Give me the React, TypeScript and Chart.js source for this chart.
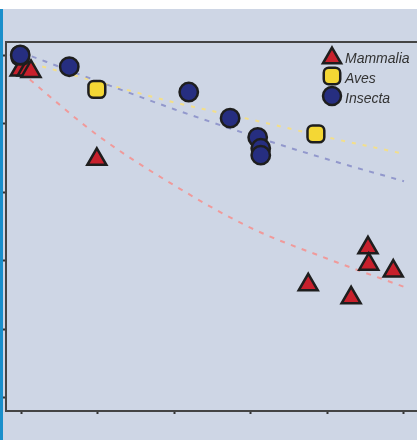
import React, { useEffect, useRef } from "react";
import { Chart, registerables } from "chart.js";
import { drawPoint } from "chart.js/helpers";

Chart.register(...registerables);

const seriesNames = ["Mammalia", "Aves", "Insecta"];

const mammaliaX = [-0.01, 0.08, 0.13, 0.99, 3.75, 4.31, 4.53, 4.54, 4.86];
const mammaliaY = [4.78, 4.78, 4.76, 3.48, 1.65, 1.46, 2.19, 1.95, 1.85];

const avesX = [-0.01, 0.99, 3.85];
const avesY = [4.99, 4.5, 3.85];

const insectaX = [-0.01, 0.63, 2.19, 2.73, 3.09, 3.13, 3.13];
const insectaY = [5.0, 4.83, 4.46, 4.08, 3.8, 3.64, 3.54];

const trendX = [0, 1, 2, 3, 4, 5];
const mammaliaTrend = [4.75, 3.83, 3.1, 2.48, 2.03, 1.62];
const insectaTrend = [5.04, 4.62, 4.21, 3.83, 3.48, 3.16];
const avesTrend = [4.92, 4.61, 4.31, 4.06, 3.8, 3.56];

const RED = "#c8202c";
const YELLOW = "#f4d734";
const NAVY = "#262e80";
const EDGE = "#1e1e1e";

const pts = (xs: number[], ys: number[]) => xs.map((x, i) => ({ x, y: ys[i] }));

const legendPlugin = {
  id: "insideLegend",
  afterDraw(chart: any) {
    const ctx = chart.ctx;
    const styles = [
      { pointStyle: "triangle", radius: 10.5, fill: RED, my: 49 },
      { pointStyle: "rectRounded", radius: 9.6, fill: YELLOW, my: 67 },
      { pointStyle: "circle", radius: 9, fill: NAVY, my: 87 },
    ];
    ctx.save();
    styles.forEach((s, i) => {
      ctx.fillStyle = s.fill;
      ctx.strokeStyle = EDGE;
      ctx.lineWidth = 2.5;
      drawPoint(ctx, { pointStyle: s.pointStyle, radius: s.radius, rotation: 0, borderWidth: 2.5 } as any, 329, s.my);
      ctx.fillStyle = "#333";
      ctx.font = "italic 14px 'Liberation Sans', Arial, sans-serif";
      ctx.textBaseline = "alphabetic";
      ctx.textAlign = "left";
      ctx.fillText(seriesNames[i], 342, 54 + i * 20);
    });
    ctx.restore();
  },
};

export default function App() {
  const ref = useRef<HTMLCanvasElement>(null);

  useEffect(() => {
    document.body.style.margin = "0";
    const canvas = ref.current!;
    const chart = new Chart(canvas, {
      type: "scatter",
      data: {
        datasets: [
          {
            label: "Insecta",
            data: pts(insectaX, insectaY),
            pointStyle: "circle",
            pointRadius: 9.2,
            pointBackgroundColor: NAVY,
            pointBorderColor: EDGE,
            pointBorderWidth: 2.5,
            order: 0,
          },
          {
            label: "Aves",
            data: pts(avesX, avesY),
            pointStyle: "rectRounded",
            pointRadius: 9.8,
            pointBackgroundColor: YELLOW,
            pointBorderColor: EDGE,
            pointBorderWidth: 2.5,
            order: 1,
          },
          {
            label: "Mammalia",
            data: pts(mammaliaX, mammaliaY),
            pointStyle: "triangle",
            pointRadius: 11,
            pointBackgroundColor: RED,
            pointBorderColor: EDGE,
            pointBorderWidth: 2.5,
            order: 2,
          },
          {
            label: "Mammalia fit",
            data: pts(trendX, mammaliaTrend),
            showLine: true,
            pointRadius: 0,
            borderColor: "#f09a9a",
            borderWidth: 2,
            borderDash: [5, 6.5],
            cubicInterpolationMode: "monotone",
            order: 3,
          },
          {
            label: "Insecta fit",
            data: pts(trendX, insectaTrend),
            showLine: true,
            pointRadius: 0,
            borderColor: "#9298cc",
            borderWidth: 2,
            borderDash: [5, 6.5],
            cubicInterpolationMode: "monotone",
            order: 4,
          },
          {
            label: "Aves fit",
            data: pts(trendX, avesTrend),
            showLine: true,
            pointRadius: 0,
            borderColor: "#f3df8a",
            borderWidth: 2,
            borderDash: [4, 7],
            cubicInterpolationMode: "monotone",
            order: 5,
          },
        ],
      } as any,
      options: {
        animation: false,
        responsive: false,
        devicePixelRatio: 1,
        layout: { autoPadding: false, padding: { left: 0, top: 33, right: 0, bottom: 26 } },
        plugins: { legend: { display: false }, tooltip: { enabled: false } },
        scales: {
          x: {
            type: "linear",
            min: -0.196,
            max: 5.17,
            ticks: { display: false, stepSize: 1, includeBounds: false },
            grid: { drawOnChartArea: false, drawTicks: true, tickLength: 3, tickColor: "#333", tickWidth: 2 },
            border: { display: true, color: "#444", width: 2 },
          },
          x2: {
            type: "linear",
            position: "top",
            min: -0.196,
            max: 5.17,
            ticks: { display: false },
            grid: { display: false, drawTicks: false },
            border: { display: true, color: "#444", width: 2 },
          },
          y: {
            type: "linear",
            min: -0.19,
            max: 5.19,
            ticks: { display: false, stepSize: 1, includeBounds: false },
            grid: { drawOnChartArea: false, drawTicks: true, tickLength: 3, tickColor: "#333", tickWidth: 2 },
            border: { display: true, color: "#444", width: 2 },
          },
        },
      } as any,
      plugins: [legendPlugin],
    });
    return () => chart.destroy();
  }, []);

  return (
    <div style={{ position: "relative", width: 417, height: 440, background: "#ffffff", overflow: "hidden" }}>
      <div style={{ position: "absolute", left: 0, top: 9, width: 3, height: 431, background: "#1a8fcb" }} />
      <div style={{ position: "absolute", left: 3, top: 9, width: 414, height: 431, background: "#ced6e5" }}>
        <canvas ref={ref} width={414} height={431} style={{ display: "block", width: 414, height: 431 }} />
      </div>
    </div>
  );
}
